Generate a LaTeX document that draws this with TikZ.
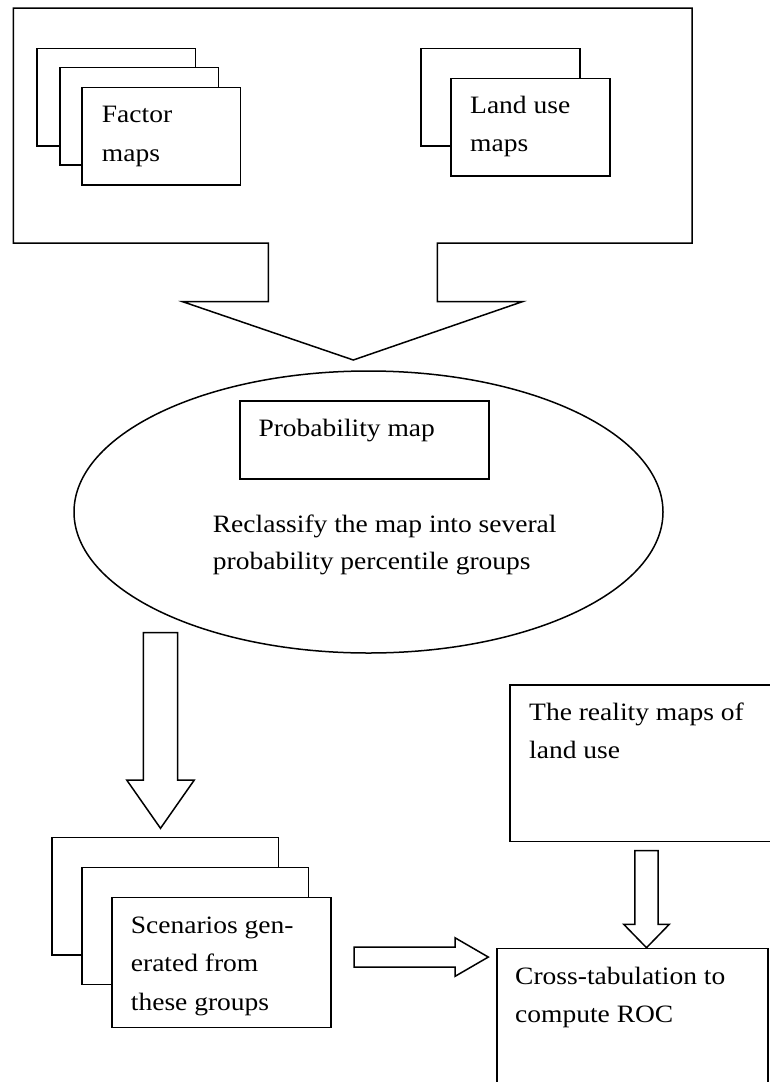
\documentclass[tikz,border=0pt]{standalone}
\usepackage{fontspec}
\setmainfont{Liberation Serif}[FakeStretch=1.1]
\usetikzlibrary{shapes.geometric,calc}

% vertical block arrow from #1 down to the tip #2:
% stem half-width #3, head half-width #4, head length #5 (all pt)
\newcommand\vblock[5]{%
  \draw[blockarrow] let \p1=(#1), \p2=(#2) in
    (\x2-#3pt,\y1) -- (\x2+#3pt,\y1) -- (\x2+#3pt,\y2+#5pt) -- (\x2+#4pt,\y2+#5pt)
    -- (\x2,\y2) -- (\x2-#4pt,\y2+#5pt) -- (\x2-#3pt,\y2+#5pt) -- cycle;}
% horizontal block arrow from #1 right to the tip #2
\newcommand\hblock[5]{%
  \draw[blockarrow] let \p1=(#1), \p2=(#2) in
    (\x1,\y2+#3pt) -- (\x2-#5pt,\y2+#3pt) -- (\x2-#5pt,\y2+#4pt) -- (\x2,\y2)
    -- (\x2-#5pt,\y2-#4pt) -- (\x2-#5pt,\y2-#3pt) -- (\x1,\y2-#3pt) -- cycle;}

\tikzset{
  lw/.style={line width=1.5pt},
  mapbox/.style={lw, draw, fill=white, inner sep=0pt, anchor=north west},
  blockarrow/.style={lw, fill=white, line join=miter},
  % multi-line labels are placed by the baseline of their last line
  txt/.style={anchor=base west, inner sep=0pt, align=left,
    font=\fontsize{25}{38.5}\selectfont},
}

\begin{document}
\begin{tikzpicture}[x=1pt, y=-1pt]
\useasboundingbox (0,0) rectangle (770,1082);
\clip (0,0) rectangle (770,1082);

% input frame merged with its downward arrow
\coordinate (inTip) at (353.3,360);
\draw[lw, line join=miter] (13.3,8) -- (692,8) -- (692,243) -- (437.3,243)
  -- (437.3,301.7) -- (522.3,301.7) -- (inTip) -- (182.7,301.7)
  -- (268.3,301.7) -- (268.3,243) -- (13.3,243) -- cycle;

% stack of factor maps
\node[mapbox, minimum width=158.5pt, minimum height=97.5pt] (f1) at (36,47.7) {};
\node[mapbox, minimum width=158.5pt, minimum height=97.5pt] (f2) at (59,66.7) {};
\node[mapbox, minimum width=158.5pt, minimum height=97.5pt] (f3) at (81,86.7) {};
\node[txt] (ftxt) at (101.7,161) {Factor\\maps};

% stack of land use maps
\node[mapbox, minimum width=159pt, minimum height=97.5pt] (l1) at (420,47.7) {};
\node[mapbox, minimum width=158.7pt, minimum height=97.5pt] (l2) at (450.3,77.7) {};
\node[txt] (ltxt) at (470,151.5) {Land use\\maps};

% probability map and reclassification
\node[lw, draw, ellipse, inner sep=0pt, minimum width=589pt, minimum height=282pt] (ell) at (368.5,512) {};
\node[mapbox, minimum width=249pt, minimum height=78pt] (prob) at (239.3,400) {};
\node[txt] (ptxt) at (258.3,436) {Probability map};
\node[txt, font=\fontsize{25}{37}\selectfont] (rtxt) at (212.7,569.7)
  {Reclassify the map into several\\probability percentile groups};

% scenarios
\coordinate (a1s) at (160.5,632.7);
\coordinate (a1t) at (160.5,828.3);
\vblock{a1s}{a1t}{17.2}{33.8}{48.3}
\node[mapbox, minimum width=226.4pt, minimum height=117.3pt] (s1) at (51.3,836.7) {};
\node[mapbox, minimum width=226.4pt, minimum height=117pt] (s2) at (81.3,866.7) {};
\node[mapbox, minimum width=219pt, minimum height=130pt] (s3) at (111.3,896.7) {};
\node[txt] (stxt) at (130.7,1010) {Scenarios gen-\\erated from\\these groups};

% reality maps and cross-tabulation; the arrow between them is drawn first
\coordinate (realSW) at (509,840.7);
\coordinate (crossNW) at (496,947.7);
\coordinate (a2s) at ($(realSW)+(137.5,10)$);
\coordinate (a2t) at (a2s |- crossNW);
\vblock{a2s}{a2t}{11.7}{22.8}{23.4}

\node[mapbox, minimum width=272pt, minimum height=156.7pt] (real) at (509,684) {};
\node[txt] (retxt) at (529,758.5) {The reality maps of\\land use};

\node[mapbox, minimum width=271.3pt, minimum height=200pt] (cross) at (crossNW) {};
\node[txt] (ctxt) at (515,1022.5) {Cross-tabulation to\\compute ROC};

\coordinate (a3s) at ($(s3.east)+(22.4,-5.4)$);
\coordinate (a3t) at ($(cross.west |- a3s)+(-7.7,0)$);
\hblock{a3s}{a3t}{10}{19.3}{33.3}
\end{tikzpicture}
\end{document}
